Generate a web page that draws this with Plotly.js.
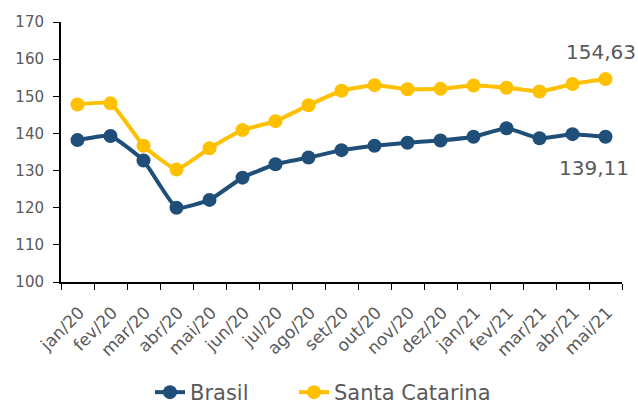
<!DOCTYPE html>
<html><head><meta charset="utf-8">
<script src="https://cdn.plot.ly/plotly-3.0.1.min.js"></script>
<style>body{margin:0;background:#fff;overflow:hidden}#c{width:638px;height:407px}</style>
</head><body><div id="c"></div>
<script>
var months = ["jan/20","fev/20","mar/20","abr/20","mai/20","jun/20","jul/20","ago/20","set/20","out/20","nov/20","dez/20","jan/21","fev/21","mar/21","abr/21","mai/21"];
var brasil = [138.2,139.3,132.7,120.0,122.1,128.1,131.7,133.5,135.5,136.7,137.5,138.1,139.1,141.4,138.7,139.8,139.11];
var santaCatarina = [147.8,148.1,136.7,130.3,136.0,140.9,143.3,147.6,151.5,153.0,151.9,152.0,152.9,152.3,151.3,153.3,154.63];
var lastBrasilLabel = "139,11";
var lastSCLabel = "154,63";

var font = "'DejaVu Sans', sans-serif";
var grey = "#595959";
var traces = [
 {x: months, y: brasil, name: "Brasil", legend:"legend", mode: "lines+markers", line:{color:"#1F4E79", width:4, shape:"spline", smoothing:0.4}, marker:{color:"#1F4E79", size:14}},
 {x: months, y: santaCatarina, name: "Santa Catarina", legend:"legend2", mode: "lines+markers", line:{color:"#FFC000", width:4, shape:"spline", smoothing:0.4}, marker:{color:"#FFC000", size:14}}
];
var n = months.length - 1;
var legFont = {size:21, color:grey};
var layout = {
 width:638, height:407,
 margin:{l:61, r:16, t:22, b:125, autoexpand:false},
 paper_bgcolor:"#fff", plot_bgcolor:"#fff",
 font:{family:font, color:grey},
 showlegend:true,
 legend:{orientation:"h", x:0.1586, xanchor:"left", y:-0.425, yanchor:"middle", font:legFont, bgcolor:"rgba(0,0,0,0)"},
 legend2:{orientation:"h", x:0.4153, xanchor:"left", y:-0.425, yanchor:"middle", font:legFont, bgcolor:"rgba(0,0,0,0)"},
 xaxis:{type:"category", automargin:false, tickangle:-45, tickfont:{size:17, color:grey}, ticklabelshift:2, ticklabelstandoff:12, showline:true, linecolor:"#000", linewidth:2, ticks:"outside", tickson:"boundaries", ticklen:6, tickcolor:"#000", showgrid:false, zeroline:false, range:[-0.5, n+0.5]},
 yaxis:{range:[100,170], dtick:10, automargin:false, tickfont:{size:15, color:grey}, ticklabelstandoff:6, showline:true, linecolor:"#000", linewidth:2, ticks:"outside", ticklen:6, tickcolor:"#000", showgrid:false, zeroline:false},
 annotations:[
  {x: months[n], y: santaCatarina[n], xref:"x", yref:"y", text:lastSCLabel, showarrow:false, yshift:27, xshift:-5, font:{size:20, color:grey}},
  {x: months[n], y: brasil[n], xref:"x", yref:"y", text:lastBrasilLabel, showarrow:false, yshift:-31, xshift:-12, font:{size:20, color:grey}}
 ]
};
Plotly.newPlot("c", traces, layout, {displayModeBar:false, staticPlot:true});
</script></body></html>
